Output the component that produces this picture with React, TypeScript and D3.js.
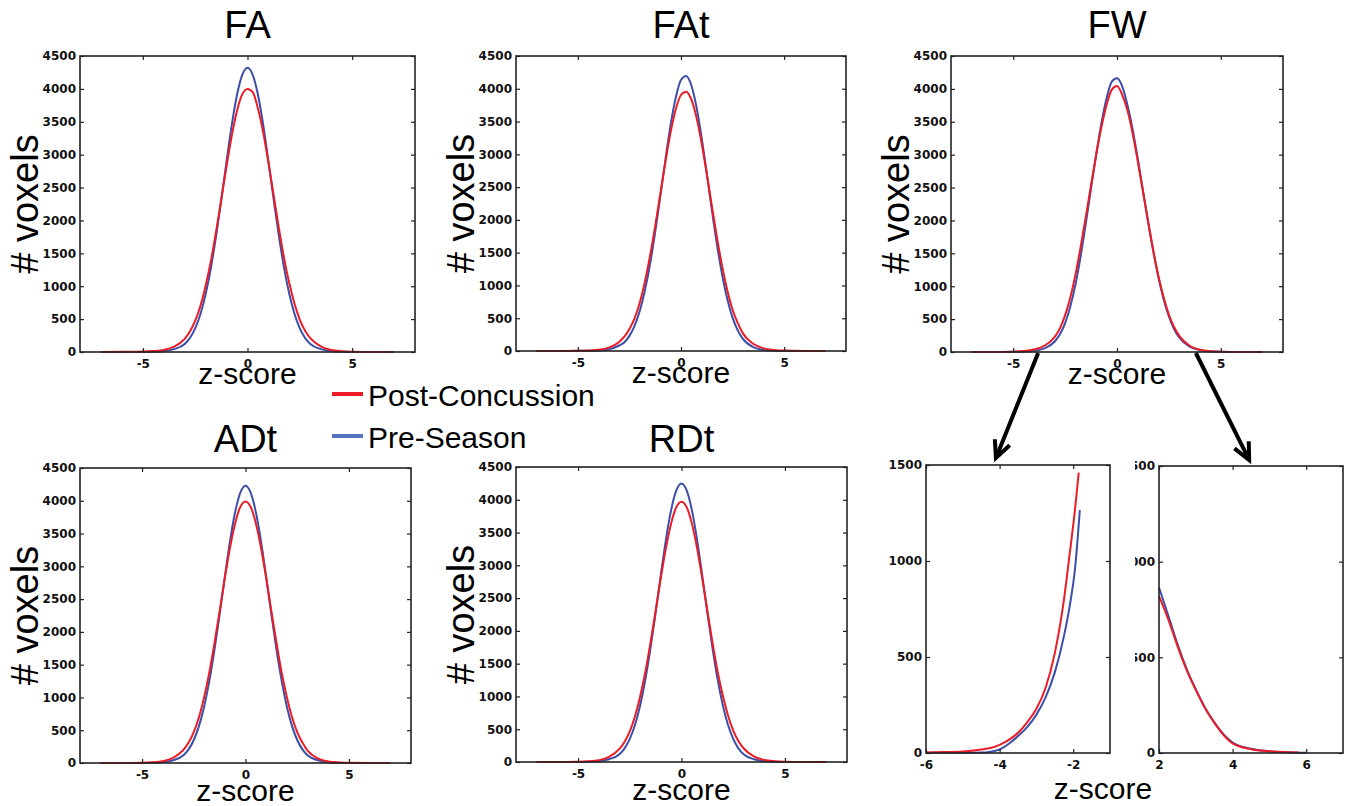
import * as d3 from 'd3';
import React, { useEffect, useRef } from 'react';

// z-score bins shared by the five whole-brain histograms
const zGrid = [-7, -6, -5, -4.5, -4, -3.5, -3, -2.75, -2.5, -2.25, -2, -1.75, -1.5, -1.25, -1, -0.75, -0.5, -0.25, 0,
  0.25, 0.5, 0.75, 1, 1.25, 1.5, 1.75, 2, 2.25, 2.5, 2.75, 3, 3.5, 4, 4.5, 5, 6, 7];

// voxel counts per bin
const faPost = [0, 2, 6, 14, 30, 80, 200, 312, 472, 700, 1008, 1380, 1832, 2324, 2828, 3292, 3668, 3916, 4000,
  3950, 3700, 3340, 2880, 2380, 1880, 1420, 1040, 730, 490, 325, 210, 85, 30, 12, 5, 1, 0];
const faPre = [0, 0, 1, 4, 13, 43, 121, 212, 359, 575, 877, 1274, 1763, 2316, 2899, 3452, 3910, 4212, 4320,
  4212, 3910, 3452, 2899, 2316, 1763, 1274, 877, 575, 359, 212, 121, 43, 13, 4, 1, 0, 0];
const fatPost = [0, 1, 3, 8, 18, 51, 139, 218, 337, 499, 737, 1057, 1453, 1909, 2404, 2895, 3342, 3691, 3905,
  3956, 3837, 3564, 3172, 2701, 2202, 1719, 1287, 919, 630, 428, 269, 111, 40, 16, 6, 1, 0];
const fatPre = [0, 0, 2, 3, 8, 25, 84, 130, 231, 384, 609, 924, 1327, 1819, 2365, 2932, 3457, 3872, 4133,
  4196, 4053, 3721, 3255, 2705, 2142, 1613, 1155, 785, 510, 315, 185, 59, 17, 5, 1, 0, 0];
const fwPost = [0, 1, 5, 14, 38, 95, 230, 360, 560, 830, 1180, 1600, 2060, 2540, 3000, 3420, 3760, 3990, 4045,
  3910, 3680, 3330, 2900, 2440, 1980, 1540, 1150, 830, 570, 380, 245, 95, 35, 13, 5, 1, 0];
const fwPre = [0, 0, 2, 6, 18, 55, 160, 270, 440, 690, 1030, 1460, 1960, 2490, 3010, 3480, 3860, 4110, 4160,
  4040, 3760, 3390, 2940, 2460, 1980, 1530, 1130, 800, 540, 350, 220, 80, 28, 10, 3, 0, 0];
const adtPost = [0, 1, 4, 10, 28, 80, 200, 311, 471, 698, 1005, 1377, 1827, 2318, 2821, 3284, 3659, 3906, 3990,
  3906, 3659, 3284, 2821, 2318, 1827, 1377, 1005, 698, 471, 311, 190, 70, 22, 8, 3, 1, 0];
const adtPre = [0, 0, 1, 4, 13, 42, 118, 207, 351, 563, 859, 1248, 1726, 2267, 2838, 3380, 3828, 4124, 4230,
  4124, 3828, 3380, 2838, 2267, 1726, 1248, 859, 563, 351, 207, 118, 42, 13, 4, 1, 0, 0];
const rdtPost = [0, 1, 4, 10, 28, 79, 199, 310, 468, 695, 1000, 1370, 1818, 2307, 2807, 3267, 3640, 3887, 3970,
  3887, 3640, 3267, 2807, 2307, 1818, 1375, 1010, 710, 480, 320, 210, 85, 30, 12, 5, 1, 0];
const rdtPre = [0, 0, 1, 4, 13, 43, 119, 208, 353, 565, 863, 1254, 1734, 2278, 2852, 3396, 3846, 4144, 4250,
  4144, 3846, 3396, 2852, 2278, 1734, 1254, 863, 565, 353, 208, 119, 43, 13, 4, 1, 0, 0];

// FW zoomed tails
const tailLeftPostZ = [-6, -5.5, -5, -4.5, -4.25, -4, -3.75, -3.5, -3.25, -3, -2.75, -2.5, -2.25, -2.1, -1.95, -1.85];
const tailLeftPost = [3, 5, 8, 18, 26, 42, 68, 105, 160, 230, 340, 520, 800, 1030, 1270, 1460];
const tailLeftPreZ = [-6, -5, -4.5, -4.25, -4, -3.75, -3.5, -3.25, -3, -2.75, -2.5, -2.25, -2.1, -1.95, -1.82];
const tailLeftPre = [1, 1, 2, 7, 18, 48, 88, 135, 200, 290, 420, 610, 760, 960, 1265];
const tailRightPostZ = [2, 2.25, 2.5, 2.75, 3, 3.25, 3.5, 3.75, 4, 4.5, 5, 5.5, 5.8];
const tailRightPost = [820, 700, 560, 435, 330, 235, 160, 95, 50, 20, 9, 4, 2];
const tailRightPreZ = [2, 2.25, 2.5, 2.75, 3, 3.25, 3.5, 3.75, 4, 4.5, 5, 5.5, 6];
const tailRightPre = [865, 720, 570, 440, 332, 237, 160, 98, 55, 22, 9, 4, 1];

const mainYTicks = [0, 500, 1000, 1500, 2000, 2500, 3000, 3500, 4000, 4500];
const mainXTicks = [-5, 0, 5];
const insetYTicks = [0, 500, 1000, 1500];
const insetLeftXTicks = [-6, -4, -2];
const insetRightXTicks = [2, 4, 6];

const legendLabels = ['Post-Concussion', 'Pre-Season'];

const RED = '#ec1c26';
const BLUE = '#3b4ea8';
const FONT = '"Liberation Sans", Arial, Helvetica, sans-serif';
const TICK_FONT = '"DejaVu Sans", Verdana, sans-serif';

// layout: [left, top, right, bottom]
const panels = [
  { title: 'FA', box: [80, 56, 415, 352], titleY: 38, xlabDy: 32, post: faPost, pre: faPre },
  { title: 'FAt', box: [516, 56, 846, 351], titleY: 38, xlabDy: 32, post: fatPost, pre: fatPre },
  { title: 'FW', box: [951, 56, 1283, 352], titleY: 38, xlabDy: 32, post: fwPost, pre: fwPre },
  { title: 'ADt', box: [80, 468, 411, 763], titleY: 452, xlabDy: 38, post: adtPost, pre: adtPre },
  { title: 'RDt', box: [516, 467, 847, 762], titleY: 452, xlabDy: 38, post: rdtPost, pre: rdtPre },
];

function frame(g, x, y, box, xTicks, yTicks) {
  const [x0, y0, x1, y1] = box;
  const style = (sel) => {
    sel.select('.domain').remove();
    sel.selectAll('line').attr('stroke', '#222').attr('stroke-width', 1.2);
    sel.selectAll('text')
      .attr('font-family', TICK_FONT)
      .attr('font-weight', 'bold')
      .attr('font-size', 12)
      .attr('fill', '#111');
  };
  g.append('g').attr('transform', `translate(0,${y1})`)
    .call(d3.axisBottom(x).tickValues(xTicks).tickSize(-4).tickPadding(7).tickFormat(d => String(d)))
    .call(style);
  g.append('g').attr('transform', `translate(0,${y0})`)
    .call(d3.axisTop(x).tickValues(xTicks).tickSize(-4).tickFormat(() => ''))
    .call(style);
  g.append('g').attr('transform', `translate(${x0},0)`)
    .call(d3.axisLeft(y).tickValues(yTicks).tickSize(-4).tickPadding(4).tickFormat(d => String(d)))
    .call(style);
  g.append('g').attr('transform', `translate(${x1},0)`)
    .call(d3.axisRight(y).tickValues(yTicks).tickSize(-4).tickFormat(() => ''))
    .call(style);
  g.append('rect')
    .attr('x', x0).attr('y', y0)
    .attr('width', x1 - x0).attr('height', y1 - y0)
    .attr('fill', 'none').attr('stroke', '#222').attr('stroke-width', 1.6);
}

function curves(g, x, y, series) {
  const line = d3.line().x(d => x(d[0])).y(d => y(d[1])).curve(d3.curveMonotoneX);
  series.forEach(s => {
    g.append('path')
      .datum(s.z.map((z, i) => [z, s.v[i]]))
      .attr('d', line)
      .attr('fill', 'none')
      .attr('stroke', s.color)
      .attr('stroke-width', 2)
      .attr('stroke-linejoin', 'round');
  });
}

function App() {
  const ref = useRef(null);

  useEffect(() => {
    const svg = d3.select(ref.current);
    svg.selectAll('*').remove();

    let fwScales = null;

    panels.forEach(p => {
      const [x0, y0, x1, y1] = p.box;
      const x = d3.scaleLinear().domain([-8, 8]).range([x0, x1]);
      const y = d3.scaleLinear().domain([0, 4500]).range([y1, y0]);
      const g = svg.append('g');

      curves(g, x, y, [
        { z: zGrid, v: p.pre, color: BLUE },
        { z: zGrid, v: p.post, color: RED },
      ]);
      frame(g, x, y, p.box, mainXTicks, mainYTicks);

      g.append('text')
        .attr('x', (x0 + x1) / 2).attr('y', p.titleY)
        .attr('text-anchor', 'middle')
        .attr('font-family', FONT).attr('font-size', 38)
        .text(p.title);
      g.append('text')
        .attr('x', (x0 + x1) / 2).attr('y', y1 + p.xlabDy)
        .attr('text-anchor', 'middle')
        .attr('font-family', FONT).attr('font-size', 30)
        .text('z-score');
      g.append('text')
        .attr('transform', `translate(${x0 - 42},${(y0 + y1) / 2}) rotate(-90)`)
        .attr('text-anchor', 'middle')
        .attr('font-family', FONT).attr('font-size', 38)
        .text('# voxels');

      if (p.title === 'FW') fwScales = { x, y };
    });

    // zoomed tail panels under FW
    const rightBox = [1159, 466, 1343, 753];
    const xR = d3.scaleLinear().domain([2, 7]).range([rightBox[0], rightBox[2]]);
    const yR = d3.scaleLinear().domain([0, 1500]).range([rightBox[3], rightBox[1]]);
    const gR = svg.append('g');
    curves(gR, xR, yR, [
      { z: tailRightPreZ, v: tailRightPre, color: BLUE },
      { z: tailRightPostZ, v: tailRightPost, color: RED },
    ]);
    frame(gR, xR, yR, rightBox, insetRightXTicks, insetYTicks);

    // left inset sits on top of the right one's tick labels
    svg.append('rect')
      .attr('x', 1112).attr('y', 455).attr('width', 23).attr('height', 310)
      .attr('fill', '#fff');

    const leftBox = [926, 465, 1110, 753];
    const xL = d3.scaleLinear().domain([-6, -1]).range([leftBox[0], leftBox[2]]);
    const yL = d3.scaleLinear().domain([0, 1500]).range([leftBox[3], leftBox[1]]);
    const gL = svg.append('g');
    curves(gL, xL, yL, [
      { z: tailLeftPreZ, v: tailLeftPre, color: BLUE },
      { z: tailLeftPostZ, v: tailLeftPost, color: RED },
    ]);
    frame(gL, xL, yL, leftBox, insetLeftXTicks, insetYTicks);

    svg.append('text')
      .attr('x', 1103).attr('y', 799)
      .attr('text-anchor', 'middle')
      .attr('font-family', FONT).attr('font-size', 30)
      .text('z-score');

    // arrows from FW tails to the zoomed panels
    const arrows = [
      { from: [fwScales.x(-3.8), fwScales.y(0) + 1], to: [xL(-4.1), yL(1500) - 7] },
      { from: [fwScales.x(3.8), fwScales.y(0) + 1], to: [xR(4.45), yR(1500) - 6] },
    ];
    arrows.forEach(a => {
      const [sx, sy] = a.from;
      const [tx, ty] = a.to;
      const len = Math.hypot(tx - sx, ty - sy);
      const ux = (tx - sx) / len, uy = (ty - sy) / len;
      const nx = -uy, ny = ux;
      svg.append('line')
        .attr('x1', sx).attr('y1', sy).attr('x2', tx - ux * 2).attr('y2', ty - uy * 2)
        .attr('stroke', '#000').attr('stroke-width', 4);
      const L = 17, W = 8;
      svg.append('path')
        .attr('d', `M${tx - ux * L + nx * W},${ty - uy * L + ny * W}L${tx},${ty}L${tx - ux * L - nx * W},${ty - uy * L - ny * W}`)
        .attr('fill', 'none').attr('stroke', '#000').attr('stroke-width', 4)
        .attr('stroke-linejoin', 'miter');
    });

    // legend
    const legend = svg.append('g').attr('transform', 'translate(332,394)');
    legendLabels.forEach((label, i) => {
      const row = legend.append('g').attr('transform', `translate(0,${i * 42})`);
      row.append('line')
        .attr('x1', 0).attr('x2', 31).attr('y1', 0).attr('y2', 0)
        .attr('stroke', i === 0 ? RED : '#5573c0').attr('stroke-width', 4);
      row.append('text')
        .attr('x', 36).attr('y', 12)
        .attr('font-family', FONT).attr('font-size', 30)
        .text(label);
    });
  }, []);

  return (
    <svg ref={ref} width={1349} height={806}
      style={{ position: 'absolute', left: 0, top: 0, background: '#fff' }} />
  );
}

export default App;
